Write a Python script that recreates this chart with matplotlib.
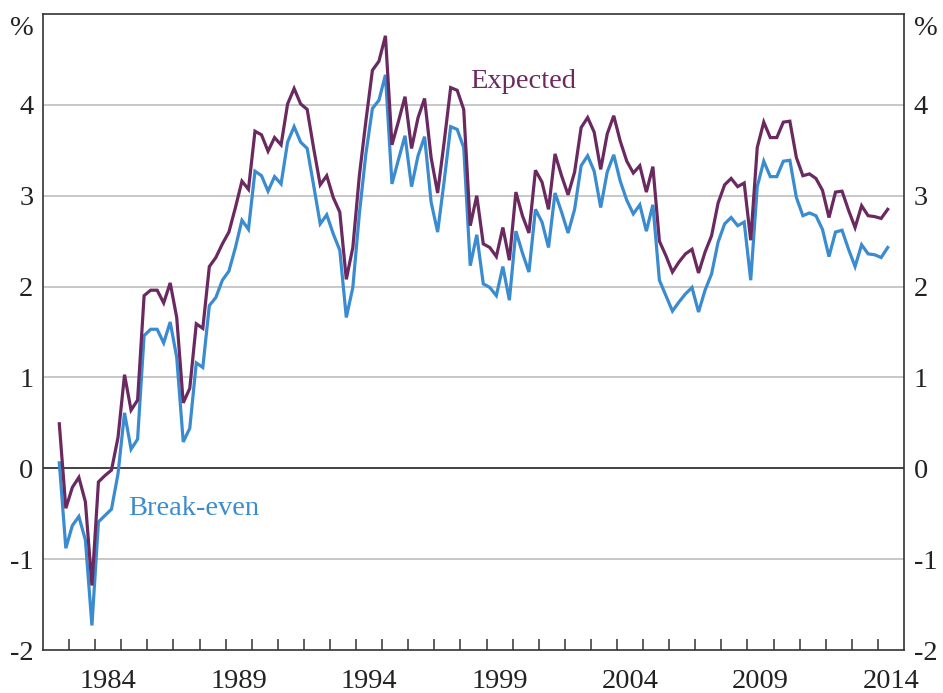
import matplotlib
matplotlib.use('Agg')
import matplotlib.pyplot as plt
import pandas as pd

# Quarterly data, 1982Q3 - 2014Q2 (%)
quarters = pd.period_range('1982Q3', '2014Q2', freq='Q')

expected = [
    0.49, -0.44, -0.21, -0.10, -0.37, -1.29, -0.15, -0.08, -0.02, 0.34, 1.03, 0.64,
    0.75, 1.90, 1.96, 1.96, 1.82, 2.04, 1.66, 0.72, 0.88, 1.59, 1.54,
    2.22, 2.32, 2.47, 2.60, 2.87, 3.16, 3.07, 3.71, 3.67, 3.49, 3.64, 3.56,
    4.01, 4.18, 4.01, 3.95, 3.52, 3.12, 3.22, 2.98, 2.82, 2.08, 2.43,
    3.22, 3.82, 4.38, 4.48, 4.76, 3.56, 3.82, 4.09, 3.52, 3.86, 4.07, 3.42,
    3.03, 3.59, 4.19, 4.16, 3.95, 2.67, 3.00, 2.47, 2.43, 2.33, 2.65,
    2.29, 3.04, 2.78, 2.59, 3.28, 3.15, 2.85, 3.46, 3.22, 3.01, 3.26, 3.75,
    3.86, 3.70, 3.29, 3.68, 3.88, 3.60, 3.38, 3.25, 3.33, 3.04, 3.32,
    2.50, 2.34, 2.16, 2.27, 2.36, 2.41, 2.15, 2.38, 2.56, 2.92, 3.12, 3.19,
    3.10, 3.14, 2.51, 3.53, 3.81, 3.64, 3.64, 3.81, 3.82, 3.42, 3.22,
    3.24, 3.19, 3.06, 2.76, 3.04, 3.05, 2.84, 2.65, 2.89, 2.78, 2.77, 2.75, 2.85,
]

breakeven = [
    0.06, -0.88, -0.63, -0.53, -0.79, -1.73, -0.59, -0.52, -0.45, -0.06, 0.61, 0.21,
    0.32, 1.46, 1.53, 1.53, 1.38, 1.61, 1.22, 0.29, 0.44, 1.16, 1.11,
    1.79, 1.88, 2.07, 2.17, 2.43, 2.73, 2.63, 3.27, 3.22, 3.05, 3.21, 3.13,
    3.59, 3.76, 3.59, 3.52, 3.11, 2.69, 2.79, 2.58, 2.40, 1.66, 1.99,
    2.80, 3.46, 3.96, 4.05, 4.33, 3.13, 3.40, 3.66, 3.10, 3.44, 3.65, 2.93,
    2.60, 3.16, 3.76, 3.73, 3.53, 2.23, 2.57, 2.03, 1.99, 1.90, 2.22,
    1.85, 2.61, 2.37, 2.16, 2.85, 2.71, 2.43, 3.03, 2.82, 2.59, 2.85, 3.33,
    3.44, 3.27, 2.87, 3.26, 3.45, 3.16, 2.95, 2.80, 2.90, 2.61, 2.90,
    2.07, 1.90, 1.73, 1.83, 1.92, 1.99, 1.72, 1.96, 2.14, 2.49, 2.69, 2.76,
    2.67, 2.71, 2.07, 3.10, 3.38, 3.21, 3.21, 3.38, 3.39, 2.98, 2.78,
    2.81, 2.78, 2.63, 2.33, 2.60, 2.62, 2.41, 2.22, 2.46, 2.36, 2.35, 2.32, 2.43,
]

year_labels = ['1984', '1989', '1994', '1999', '2004', '2009', '2014']
y_ticks = [-2, -1, 0, 1, 2, 3, 4]
y_labels = ['-2', '-1', '0', '1', '2', '3', '4']

PURPLE = '#6a2a60'
BLUE = '#3a8bcf'
GRID = '#c4c4c4'
AXC = '#333333'

x = quarters.year + (quarters.quarter - 0.5) / 4.0

plt.rcParams['font.family'] = ['Liberation Serif', 'DejaVu Serif']
plt.rcParams['axes.unicode_minus'] = False

fig = plt.figure(figsize=(9.43, 6.93), dpi=100)
ax = fig.add_axes([43 / 943, 1 - 650 / 693, (904 - 43) / 943, (650 - 14) / 693])
ax.set_xlim(1982, 2015)
ax.set_ylim(-2, 5)

for v in y_ticks:
    if v not in (0, -2):
        ax.axhline(v, color=GRID, lw=1.3, zorder=1)
ax.axhline(0, color='#222222', lw=1.2, zorder=2)

ax.plot(x, breakeven, color=BLUE, lw=2.3, solid_joinstyle='miter', zorder=3)
ax.plot(x, expected, color=PURPLE, lw=2.3, solid_joinstyle='miter', zorder=4)

for s in ax.spines.values():
    s.set_color(AXC)
    s.set_linewidth(1.2)

# x ticks: year marks inside, labels centred mid-year
ax.set_xticks(range(1983, 2015))
ax.set_xticklabels([])
ax.tick_params(axis='x', which='major', direction='in', length=8, width=1.1,
               color=AXC, bottom=True, top=False)
ax.set_xticks([int(y) + 0.5 for y in year_labels], minor=True)
ax.set_xticklabels(year_labels, minor=True)
ax.tick_params(axis='x', which='minor', length=0, pad=14, labelsize=20.5,
               colors='#222222')

ax.set_yticks(y_ticks)
ax.set_yticklabels(y_labels)
ax.tick_params(axis='y', length=0, labelleft=True, labelright=True,
               labelsize=20.5, colors='#222222', pad=7)

# % unit labels
ax.annotate('%', xy=(0, 4.84), xycoords=('axes fraction', 'data'),
            xytext=(-7, 0), textcoords='offset points', ha='right', va='center',
            fontsize=20.5, color='#222222')
ax.annotate('%', xy=(1, 4.84), xycoords=('axes fraction', 'data'),
            xytext=(7, 0), textcoords='offset points', ha='left', va='center',
            fontsize=20.5, color='#222222')

ax.text(1998.36, 4.26, 'Expected', color=PURPLE, fontsize=20.5,
        ha='left', va='center')
ax.text(1985.26, -0.44, 'Break-even', color=BLUE, fontsize=20.5,
        ha='left', va='center')

fig.savefig('out.png', dpi=100)
